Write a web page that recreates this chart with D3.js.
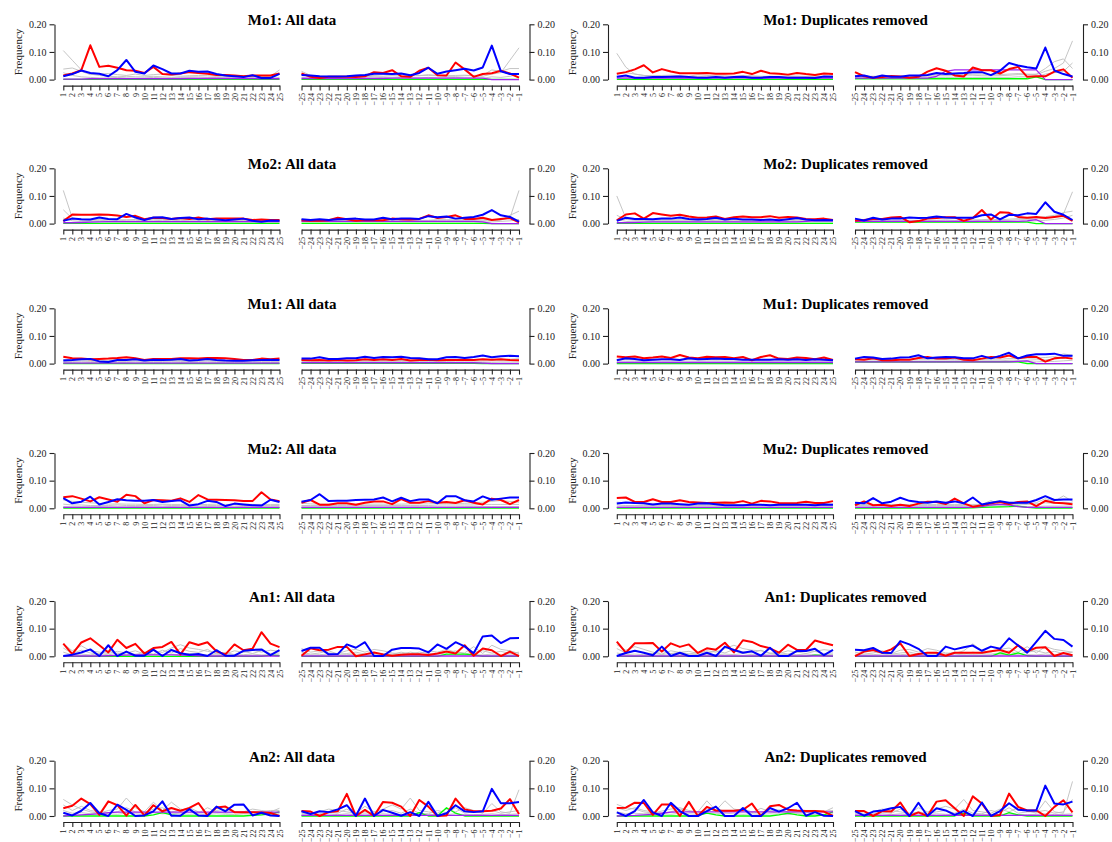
<!DOCTYPE html>
<html>
<head>
<meta charset="utf-8">
<script src="https://cdn.jsdelivr.net/npm/d3@7"></script>
<style>
  html, body { margin: 0; padding: 0; background: #fff; }
  svg { display: block; font-family: "Liberation Serif", "Times New Roman", serif; }
</style>
</head>
<body>
<svg id="chart" width="1112" height="842"></svg>
<script>
// Panel layout: rows are datasets, columns are the two subsets.
const datasets = ["Mo1", "Mo2", "Mu1", "Mu2", "An1", "An2"];
const subsets = ["All data", "Duplicates removed"];

// Read positions counted from the start and from the end of the read.
const startPositions = [1,2,3,4,5,6,7,8,9,10,11,12,13,14,15,16,17,18,19,20,21,22,23,24,25];
const endPositions = [-25,-24,-23,-22,-21,-20,-19,-18,-17,-16,-15,-14,-13,-12,-11,-10,-9,-8,-7,-6,-5,-4,-3,-2,-1];
const freqTicks = [0, 0.10, 0.20];

// Frequencies in thousandths. One entry per panel, in order:
// Mo1 all, Mo1 dedup, Mo2 all, Mo2 dedup, Mu1 all, Mu1 dedup,
// Mu2 all, Mu2 dedup, An1 all, An1 dedup, An2 all, An2 dedup.
const redStart = [
  [15,22,34,124,46,50,43,34,32,24,46,20,18,22,27,24,21,17,17,15,12,15,15,15,22],
  [21,27,37,52,26,38,29,23,23,23,24,21,21,22,28,20,32,23,21,18,24,20,17,22,20],
  [9,33,32,32,33,32,29,24,28,16,21,20,17,20,17,22,16,18,18,18,18,13,15,13,13],
  [12,33,37,18,38,33,28,32,26,21,22,26,17,23,26,23,23,27,21,24,22,17,16,18,13],
  [25,19,18,16,17,18,20,23,19,13,17,17,17,19,19,18,20,20,19,17,13,13,18,16,18],
  [26,23,26,19,22,26,20,31,22,19,25,23,24,19,24,12,24,30,18,17,22,20,16,22,13],
  [40,44,35,25,40,32,24,49,44,18,30,29,27,36,23,48,32,31,30,29,26,26,58,32,26],
  [37,39,23,23,33,23,23,29,23,21,19,20,21,20,26,17,27,25,19,18,19,24,19,19,26],
  [46,8,50,65,40,14,60,30,45,10,30,34,52,7,51,41,51,18,7,43,22,27,87,46,33],
  [53,13,47,47,48,17,47,34,43,12,29,24,49,14,58,52,37,29,13,42,23,23,57,48,40],
  [28,37,63,43,4,53,39,1,40,2,39,17,29,19,29,47,2,31,34,14,14,14,13,11,0],
  [29,30,48,47,4,42,42,0,51,0,33,20,19,19,22,45,0,35,40,23,20,18,18,16,0]
];
const redEnd = [
  [22,10,6,10,10,10,9,12,27,24,34,12,10,32,43,16,15,62,37,10,20,23,32,22,7],
  [27,12,7,9,13,11,7,10,29,41,32,15,11,44,34,34,22,38,46,10,12,12,29,37,7],
  [12,10,10,12,21,16,10,13,12,12,18,16,15,17,30,20,24,30,17,17,21,13,17,20,5],
  [11,13,17,17,22,24,5,9,18,20,23,23,10,20,49,15,41,39,24,21,24,20,24,28,10],
  [13,12,13,11,13,11,12,16,13,16,13,17,11,13,14,12,13,13,14,13,16,14,16,13,12],
  [16,14,19,12,12,14,14,20,24,18,18,22,14,12,18,24,22,29,19,24,24,7,19,22,18],
  [20,30,13,13,18,18,13,20,25,25,15,33,20,20,26,20,23,19,29,20,14,35,30,15,30],
  [11,25,11,13,8,13,8,17,24,23,15,35,18,6,11,18,23,15,23,25,8,27,20,18,15],
  [2,29,22,24,34,34,0,7,14,7,2,6,7,7,5,10,17,10,40,2,28,22,1,17,1],
  [1,17,23,13,25,47,1,8,13,13,2,13,13,13,13,18,23,13,40,18,31,33,1,12,4],
  [18,16,0,14,17,80,0,22,0,51,48,34,0,58,34,0,2,63,24,17,17,19,27,61,7],
  [18,18,0,18,16,49,0,13,0,52,57,28,0,71,45,0,4,81,33,20,20,0,33,57,13]
];
const blueStart = [
  [12,20,33,24,21,12,34,71,28,22,51,38,22,22,32,28,29,20,15,12,9,16,6,6,21],
  [10,15,7,7,9,9,10,11,9,7,7,9,7,9,10,7,7,9,9,7,7,7,6,11,10],
  [10,18,16,15,22,17,16,35,22,13,22,23,17,20,22,16,18,15,12,15,18,10,7,11,10],
  [10,21,17,17,16,18,18,22,17,15,17,21,15,18,15,15,13,15,12,16,20,15,12,13,12],
  [11,13,16,17,8,6,13,13,16,11,14,13,14,17,11,13,17,13,11,10,10,12,13,14,13],
  [12,19,17,12,14,16,16,13,19,16,17,18,17,17,14,14,14,14,16,14,16,13,16,14,12],
  [37,18,24,42,14,23,33,29,27,27,30,23,26,29,10,15,27,23,8,17,14,11,10,31,23],
  [17,21,19,18,14,17,17,15,13,17,18,15,11,11,11,13,13,11,13,13,13,13,11,14,13],
  [1,6,14,25,1,40,1,17,2,2,24,1,23,11,6,8,1,22,2,2,20,23,25,4,22],
  [1,12,20,13,4,35,1,13,1,1,13,1,35,23,13,18,2,31,1,1,20,19,27,4,23],
  [12,2,19,47,10,0,41,22,0,2,17,53,1,1,25,2,0,34,17,41,42,2,12,2,0],
  [13,0,18,58,13,0,48,18,0,0,18,34,0,0,29,0,0,29,16,28,48,1,14,1,0]
];
const blueEnd = [
  [17,15,12,11,11,12,15,17,21,21,20,22,16,24,43,21,29,34,39,33,44,123,30,20,20],
  [12,15,7,15,10,10,15,15,17,24,20,22,24,27,27,16,32,60,51,45,40,116,33,20,11],
  [16,13,16,13,16,17,18,15,15,21,16,18,18,17,27,23,26,18,21,24,32,49,30,24,7],
  [18,11,21,15,18,18,22,20,21,26,22,21,21,21,30,33,15,32,30,37,35,77,43,32,13],
  [18,18,23,17,17,19,19,25,20,24,23,25,20,19,16,16,23,24,20,24,29,23,27,28,27],
  [18,24,22,17,18,22,23,30,19,22,24,23,19,19,28,19,28,39,19,29,34,34,36,28,28],
  [24,30,51,26,27,27,30,31,32,39,25,38,26,32,32,18,44,44,29,25,43,31,35,39,39],
  [20,18,37,18,24,38,27,23,20,25,20,25,18,39,14,20,26,20,20,20,30,44,30,32,32],
  [19,31,31,7,8,43,31,51,1,1,24,30,30,28,14,43,27,51,36,11,72,75,48,65,66],
  [24,22,30,13,12,55,43,27,1,1,35,25,33,39,20,35,27,65,39,13,52,92,63,59,35],
  [17,7,17,14,24,39,0,63,0,22,12,1,14,0,51,0,10,39,17,14,17,98,46,46,51],
  [18,1,16,20,28,33,0,48,0,28,20,4,18,0,49,0,18,46,23,20,20,110,45,42,52]
];
const purpleStart = [
  [2,2,2,3,3,3,3,3,3,3,3,3,3,3,4,4,4,4,4,4,4,4,3,3,3],
  [5,5,5,5,5,5,5,5,5,6,6,6,6,6,6,5,5,5,5,5,5,5,5,5,5],
  [3,3,4,5,6,7,7,7,7,7,7,7,7,7,7,7,7,7,7,7,7,7,7,7,7],
  [3,3,4,5,6,6,6,6,6,6,6,6,6,6,6,6,6,6,6,6,6,8,10,10,10],
  [2,2,2,2,2,2,2,2,2,2,2,2,2,2,2,2,2,2,2,2,2,2,2,2,2],
  [4,4,4,4,4,4,4,4,4,4,4,4,4,4,4,4,4,4,4,4,4,4,4,4,4],
  [3,3,3,3,3,3,3,3,3,3,3,3,3,3,3,3,3,3,3,3,3,3,3,3,3],
  [3,3,3,3,3,3,3,3,3,3,3,3,3,3,3,3,3,3,3,3,3,3,3,3,3],
  [1,1,1,1,1,2,3,4,5,5,5,5,5,4,3,2,1,1,1,1,1,1,1,1,1],
  [1,1,1,1,1,1,1,1,1,1,1,1,1,1,1,1,1,1,1,1,1,1,1,1,1],
  [0,2,4,6,8,12,14,14,14,14,14,14,14,14,14,14,14,14,14,14,14,14,14,14,14],
  [0,1,2,4,6,10,14,15,15,15,15,15,15,15,15,15,15,15,15,15,15,15,15,15,15]
];
const purpleEnd = [
  [4,4,4,4,4,4,4,4,4,4,5,5,5,5,5,5,5,5,5,5,5,0,0,0,0],
  [5,5,5,5,5,5,5,5,5,12,30,35,35,35,35,35,35,35,35,35,35,0,0,0,0],
  [8,8,8,8,8,8,8,8,8,8,8,8,8,8,8,8,8,8,8,8,6,0,0,0,0],
  [8,8,8,8,8,8,8,8,8,8,8,8,8,8,8,8,8,8,8,10,14,0,0,0,0],
  [3,3,3,3,3,3,3,3,3,3,3,3,3,3,3,3,3,3,3,3,2,0,0,0,0],
  [6,6,6,6,6,6,6,6,6,6,6,6,6,6,6,6,6,6,8,10,0,0,0,0,0],
  [3,3,3,3,3,3,3,3,3,3,3,3,3,3,3,3,3,3,3,3,3,3,3,3,3],
  [3,3,3,3,3,3,3,3,3,3,3,3,3,3,6,12,14,12,6,3,3,3,3,3,3],
  [1,1,1,1,1,1,1,1,1,1,1,1,1,1,1,1,1,1,1,1,1,1,1,1,1],
  [1,1,1,1,1,1,1,1,1,1,1,1,1,1,1,1,1,1,1,1,1,1,1,1,1],
  [2,2,2,2,2,2,2,2,2,2,2,2,2,2,2,2,2,2,2,2,2,2,2,2,2],
  [2,2,2,2,2,2,2,2,2,2,2,2,2,2,2,2,2,2,2,2,2,2,2,2,2]
];
const greenStart = [
  [1,1,1,1,1,1,1,1,1,1,1,1,1,1,1,1,1,1,1,1,1,1,1,1,1],
  [1,1,1,1,1,1,1,1,1,1,1,1,1,1,1,1,1,1,1,1,1,1,1,1,1],
  [1,1,1,1,1,1,1,1,1,1,1,1,1,1,1,1,1,1,1,1,1,1,1,1,1],
  [1,1,1,1,1,1,1,1,1,1,1,1,1,1,1,1,1,1,1,1,1,1,1,1,1],
  [0,0,0,0,0,0,0,0,0,0,0,0,0,0,0,0,0,0,0,0,0,0,0,0,0],
  [0,0,0,0,0,0,0,0,0,0,0,0,0,0,0,0,0,0,0,0,0,0,0,0,0],
  [1,1,1,1,1,1,1,1,1,1,1,1,1,1,1,1,1,1,1,1,1,1,1,1,1],
  [1,1,1,1,1,1,1,1,1,1,1,1,1,1,1,1,1,1,1,1,1,1,1,1,1],
  [0,0,0,0,0,0,0,0,0,0,0,0,0,0,0,0,0,0,0,0,0,0,0,4,2],
  [0,0,0,0,0,0,0,0,0,0,0,0,0,0,0,0,0,0,0,0,0,0,4,2,0],
  [0,0,0,0,0,0,0,0,0,0,4,12,4,0,0,0,0,0,0,0,0,2,4,8,15],
  [0,0,0,0,0,0,0,0,0,2,10,4,0,0,0,0,0,0,4,10,4,0,0,4,15]
];
const greenEnd = [
  [1,1,1,1,1,1,1,1,1,1,1,1,1,1,1,1,1,1,1,1,1,1,1,1,1],
  [3,3,3,3,3,3,3,3,3,3,3,3,3,3,3,3,3,3,3,3,10,0,0,0,0],
  [1,1,1,1,1,1,1,1,1,1,1,1,1,1,1,1,1,1,1,1,1,0,0,0,0],
  [5,5,5,5,5,5,5,5,5,5,5,5,5,5,5,5,5,5,5,5,0,0,0,0,0],
  [1,1,1,1,1,1,1,1,1,1,1,1,1,1,1,1,1,1,1,1,0,0,0,0,0],
  [6,6,6,6,6,6,6,6,6,6,6,6,6,6,6,6,6,6,6,0,0,0,0,0,0],
  [1,1,1,1,1,1,1,1,1,1,1,1,1,1,1,1,1,1,1,1,1,1,1,1,1],
  [1,1,1,1,1,1,1,1,1,1,1,1,1,2,3,4,5,6,8,3,1,1,1,1,1],
  [0,0,0,0,0,0,0,0,0,0,0,0,0,0,0,0,8,8,8,5,0,0,0,0,0],
  [0,0,0,0,0,0,0,0,0,0,0,0,0,0,0,0,12,4,12,2,0,0,0,0,0],
  [0,0,0,0,0,0,0,0,0,0,0,0,0,12,0,0,30,10,0,0,0,0,0,0,0],
  [0,0,0,0,0,0,0,0,0,0,0,0,10,0,0,0,0,12,4,0,0,0,0,0,0]
];
// Remaining categories, drawn in grey behind the highlighted ones.
const grayStart = [
  [[105,70,35,20,15,12,10,12,10,10,12,10,8,8,10,10,8,8,10,10,12,10,10,12,35],
   [38,42,30,18,20,22,18,15,20,15,18,20,15,12,14,15,14,12,12,12,14,14,12,12,20],
   [25,15,10,8,6,6,8,6,5,6,8,6,5,5,6,5,5,6,6,6,5,6,6,5,8]],
  [[95,45,20,15,12,12,10,10,10,12,10,12,10,10,12,10,10,12,10,10,12,10,10,10,12],
   [22,25,20,15,14,15,16,14,12,18,15,14,14,12,15,14,12,12,12,14,12,12,12,12,14],
   [10,8,8,6,6,6,8,6,6,8,6,6,6,5,6,6,6,5,6,6,5,6,6,5,6]],
  [[120,20,15,15,14,14,14,14,15,14,14,14,14,14,14,14,12,12,12,12,12,12,12,12,12],
   [50,18,12,12,12,10,10,12,12,10,10,12,10,12,10,10,10,10,10,10,10,10,10,10,10],
   [20,10,8,8,8,6,6,6,6,6,6,6,6,6,6,6,6,6,6,6,6,6,6,6,6]],
  [[100,20,14,14,14,14,14,14,14,14,14,14,14,14,14,14,14,14,14,14,14,14,14,14,14],
   [30,15,12,12,12,12,12,12,12,12,10,12,12,10,12,12,10,12,12,10,12,12,10,10,10],
   [15,8,6,6,6,6,6,6,6,6,6,6,6,6,6,6,6,6,6,6,6,6,6,6,6]],
  [[15,14,14,12,12,12,14,14,14,12,12,12,12,12,14,14,14,12,12,12,10,10,12,12,12],
   [9,8,9,8,8,9,8,8,9,8,8,8,9,8,8,8,9,8,8,8,8,9,8,8,8],
   [4,4,5,4,4,5,4,4,5,4,4,4,5,4,4,4,5,4,4,4,4,5,4,4,4]],
  [[16,15,14,14,14,15,14,15,15,14,14,15,14,14,15,14,14,15,14,14,15,14,14,14,14],
   [10,9,9,9,10,9,9,10,9,9,9,10,9,9,9,10,9,9,9,10,9,9,9,9,9],
   [4,4,4,5,4,4,4,5,4,4,4,5,4,4,4,5,4,4,4,5,4,4,4,4,4]],
  [[30,25,22,20,18,15,16,15,15,14,14,15,14,14,15,14,14,15,14,14,15,14,14,14,14],
   [15,12,12,10,10,10,12,10,10,10,10,12,10,10,10,12,10,10,10,12,10,10,10,10,10],
   [6,5,5,5,6,5,5,5,6,5,5,5,6,5,5,5,6,5,5,5,6,5,5,5,5]],
  [[22,20,18,16,15,14,15,14,14,15,14,14,15,14,14,15,14,14,15,14,14,15,14,14,15],
   [12,10,10,10,10,10,10,10,10,10,10,10,10,10,10,10,10,10,10,10,10,10,10,10,10],
   [5,5,5,5,5,5,5,5,5,5,5,5,5,5,5,5,5,5,5,5,5,5,5,5,5]],
  [[45,20,38,20,15,10,18,12,20,8,20,14,30,42,30,25,18,12,8,20,14,22,15,22,18],
   [30,10,22,12,8,20,8,15,6,15,8,22,12,28,18,14,25,8,14,6,18,10,20,10,12],
   [15,5,8,5,10,5,12,5,8,5,6,5,8,5,10,6,5,8,5,5,6,8,5,6,5]],
  [[42,22,35,25,15,8,20,14,18,10,20,15,28,40,28,22,20,12,10,20,15,20,18,24,20],
   [28,12,20,12,10,18,10,14,8,14,10,20,12,25,16,12,22,10,14,8,16,10,18,10,12],
   [12,6,8,6,10,6,10,6,8,6,6,6,8,6,10,6,6,8,6,6,6,8,6,6,6]],
  [[60,40,25,15,10,20,25,65,30,15,50,20,50,25,20,10,30,15,10,12,15,25,20,15,28],
   [40,20,35,20,15,10,15,30,15,10,25,30,15,20,30,15,10,20,25,15,10,12,15,20,20],
   [20,10,12,8,10,8,6,10,8,6,12,8,10,8,6,8,6,8,6,5,8,6,5,6,8]],
  [[42,30,25,15,10,18,25,30,20,15,55,20,55,25,20,12,28,15,10,12,15,20,20,15,30],
   [30,20,30,20,15,10,15,25,15,10,25,30,15,20,25,15,10,20,22,15,10,12,15,18,20],
   [15,8,10,8,10,8,6,10,8,6,10,8,10,8,6,8,6,8,6,5,8,6,5,6,8]]
];
const grayEnd = [
  [[30,15,10,8,8,8,10,10,12,12,14,12,14,14,18,15,14,15,16,14,12,20,25,70,115],
   [18,15,12,12,12,12,12,14,15,18,16,18,16,15,15,14,12,12,14,15,16,35,30,40,40],
   [8,6,6,5,6,6,5,6,6,8,6,8,6,6,8,6,6,8,6,6,5,10,8,12,20]],
  [[15,12,12,12,12,12,14,14,16,18,16,18,18,20,20,18,18,20,22,20,18,30,40,60,140],
   [10,10,10,10,10,10,12,12,12,14,14,14,16,16,14,14,14,16,18,18,20,40,65,75,40],
   [6,5,5,5,5,5,6,6,6,8,8,8,8,8,8,8,8,8,10,10,10,20,25,30,60]],
  [[14,12,12,12,12,12,12,12,12,12,12,12,12,12,12,14,14,14,14,14,14,14,15,20,120],
   [10,10,10,10,10,10,10,10,10,10,10,10,10,10,10,12,12,12,12,12,12,12,12,30,45],
   [6,6,6,6,6,6,6,6,6,6,6,6,6,6,6,6,6,6,6,6,6,6,8,10,15]],
  [[14,12,12,12,12,12,12,12,12,12,14,12,14,14,14,16,14,16,18,18,20,25,30,35,115],
   [10,10,10,10,10,10,10,10,10,10,10,10,10,10,12,12,12,12,14,14,16,20,25,40,45],
   [6,6,6,6,6,6,6,6,6,6,6,6,6,6,8,8,8,8,8,8,10,12,15,20,30]],
  [[12,12,12,12,12,12,12,12,12,12,12,12,12,12,12,12,12,12,12,14,14,14,14,16,18],
   [8,8,8,8,8,8,8,8,8,8,8,8,8,8,8,8,8,9,9,9,9,10,10,10,10],
   [4,4,4,4,4,4,4,4,4,4,4,4,4,4,4,4,4,4,4,4,4,4,5,5,5]],
  [[14,14,14,14,14,14,14,14,14,14,14,15,15,15,15,16,16,18,18,20,20,22,25,35,30],
   [9,9,9,9,9,9,9,9,9,9,9,10,10,10,10,10,10,12,12,12,14,14,16,20,28],
   [4,4,4,4,4,4,4,4,4,4,4,5,5,5,5,5,5,6,6,6,6,8,8,10,12]],
  [[18,16,15,15,15,15,15,15,15,15,15,15,16,16,16,18,18,18,18,20,22,25,28,25,22],
   [10,10,10,10,10,10,10,10,10,10,10,10,10,10,10,12,12,12,12,12,14,14,14,14,14],
   [5,5,5,5,5,5,5,5,5,5,5,5,5,5,5,5,5,5,6,6,6,6,6,6,6]],
  [[15,14,14,14,14,14,14,14,14,14,14,14,14,14,14,28,14,14,16,18,20,35,25,45,25],
   [10,10,10,10,10,10,10,10,10,10,10,10,10,10,10,12,12,12,12,14,16,20,18,22,20],
   [5,5,5,5,5,5,5,5,5,5,5,5,5,5,5,5,5,6,6,6,6,8,8,8,8]],
  [[28,15,20,12,10,20,25,15,25,20,12,8,15,10,20,15,25,15,12,35,10,40,25,20,10],
   [15,8,12,20,8,10,15,8,12,10,8,15,8,15,10,8,12,20,8,15,20,12,18,10,15],
   [8,5,6,8,5,6,8,5,6,5,5,8,5,6,5,5,6,8,5,6,5,8,6,5,6]],
  [[25,15,20,12,10,22,25,15,28,22,12,10,20,45,20,15,25,30,15,35,12,35,25,20,15],
   [15,8,12,20,8,12,15,8,12,10,8,15,8,15,10,8,12,20,8,15,20,12,18,10,15],
   [8,5,6,8,5,6,8,5,6,5,5,8,5,6,5,5,6,8,5,6,5,8,6,5,6]],
  [[15,10,15,25,20,15,10,35,15,25,40,25,65,20,15,10,25,15,30,20,10,45,15,10,95],
   [10,5,8,15,10,25,8,15,10,15,20,10,25,10,8,20,12,30,10,15,15,20,10,15,20],
   [5,2,5,8,5,8,5,8,5,8,6,5,8,5,5,6,5,8,5,5,6,8,5,6,8]],
  [[15,10,15,25,20,15,10,30,15,25,35,25,60,20,15,10,25,15,30,20,10,55,15,10,125],
   [10,5,8,15,10,25,8,15,10,15,20,10,25,10,8,20,12,30,10,15,15,20,10,15,60],
   [5,2,5,8,5,8,5,8,5,8,6,5,8,5,5,6,5,8,5,5,6,8,5,6,8]]
];

// ---- geometry ----
const colOffset = [0, 553.5];
const rowTop = [24.3, 168.3, 308.3, 453, 601, 760.7];
const plotH = 55.3;
const leftAxisX = 54.5, rightAxisX = 529.5;
const startRange = [63.3, 279.5];
const endRange = [301.5, 519];

const svg = d3.select("#chart");
svg.append("rect").attr("width", 1112).attr("height", 842).attr("fill", "#fff");

const axisColor = "#222";
const fmt = d3.format(".2f");
const minus = s => String(s).replace("-", "\u2212");

function styleAxis(g) {
  g.select(".domain").attr("stroke", axisColor).attr("stroke-width", 1.1);
  g.selectAll(".tick line").attr("stroke", axisColor).attr("stroke-width", 1.1);
  g.selectAll(".tick text").attr("fill", "#222").style("font-family", "Liberation Serif");
}

function drawSide(g, positions, range, series, y) {
  const x = d3.scaleLinear().domain([positions[0], positions[positions.length - 1]]).range(range);
  const line = d3.line().x((d, i) => x(positions[i])).y(d => y(d / 1000));

  const layers = [];
  series.gray.forEach(s => layers.push({ v: s, c: "#BEBEBE", w: 0.9 }));
  layers.push({ v: series.green, c: "#00FF00", w: 1.3 });
  layers.push({ v: series.purple, c: "#A020F0", w: 1.3 });
  layers.push({ v: series.red, c: "#FF0000", w: 2 });
  layers.push({ v: series.blue, c: "#0000FF", w: 2 });

  g.selectAll(null).data(layers).enter().append("path")
    .attr("d", d => line(d.v))
    .attr("fill", "none")
    .attr("stroke", d => d.c)
    .attr("stroke-width", d => d.w)
    .attr("stroke-linejoin", "round");

  // position axis below the plot
  const xa = g.append("g")
    .attr("transform", `translate(0,${plotH + 6})`)
    .call(d3.axisBottom(x).tickValues(positions).tickFormat(minus).tickSize(5).tickSizeOuter(0));
  styleAxis(xa);
  xa.selectAll(".tick text")
    .attr("transform", "rotate(-90)")
    .attr("x", -7.5).attr("y", 0).attr("dy", "0.33em")
    .style("text-anchor", "end")
    .style("font-size", "8px");
}

datasets.forEach((ds, r) => {
  subsets.forEach((sub, c) => {
    const idx = r * 2 + c;
    const g = svg.append("g").attr("transform", `translate(${colOffset[c]},${rowTop[r]})`);
    const y = d3.scaleLinear().domain([0, 0.2]).range([plotH, 0]);

    // title
    g.append("text")
      .attr("x", (leftAxisX + rightAxisX) / 2).attr("y", 1)
      .attr("text-anchor", "middle")
      .style("font-size", "15px").style("font-weight", "bold")
      .attr("fill", "#000")
      .text(`${ds}: ${sub}`);

    // y label
    g.append("text")
      .attr("transform", `translate(22,${plotH / 2}) rotate(-90)`)
      .attr("text-anchor", "middle")
      .style("font-size", "11px")
      .attr("fill", "#222")
      .text("Frequency");

    drawSide(g, startPositions, startRange, {
      red: redStart[idx], blue: blueStart[idx], purple: purpleStart[idx],
      green: greenStart[idx], gray: grayStart[idx]
    }, y);
    drawSide(g, endPositions, endRange, {
      red: redEnd[idx], blue: blueEnd[idx], purple: purpleEnd[idx],
      green: greenEnd[idx], gray: grayEnd[idx]
    }, y);

    const ya = g.append("g").attr("transform", `translate(${leftAxisX},0)`)
      .call(d3.axisLeft(y).tickValues(freqTicks).tickFormat(fmt).tickSize(5).tickSizeOuter(0).tickPadding(3));
    styleAxis(ya);
    ya.selectAll(".tick text").style("font-size", "10px");

    const yb = g.append("g").attr("transform", `translate(${rightAxisX},0)`)
      .call(d3.axisRight(y).tickValues(freqTicks).tickFormat(fmt).tickSize(5).tickSizeOuter(0).tickPadding(3));
    styleAxis(yb);
    yb.selectAll(".tick text").style("font-size", "10px");
  });
});
</script>
</body>
</html>
